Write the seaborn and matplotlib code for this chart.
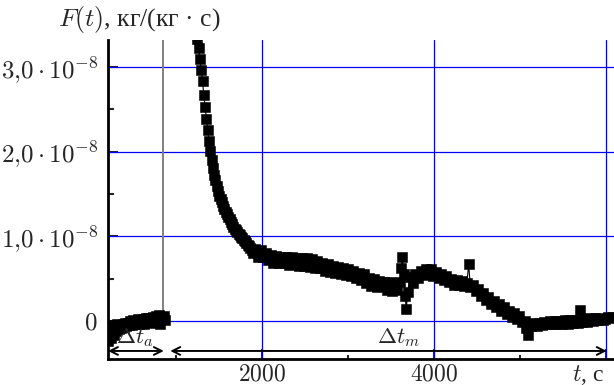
import matplotlib
matplotlib.use("Agg")
import matplotlib.pyplot as plt
import seaborn as sns
import numpy as np
from matplotlib.ticker import FixedLocator

# ---- data (F in units of 1e-8 kg/(kg*s)) ----
t_a = [210, 225, 240, 255, 270, 285, 300, 315, 330, 345, 360, 375, 390, 405, 420,
       435, 450, 465, 480, 495, 510, 525, 540, 555, 570, 585, 600, 615, 630, 645,
       660, 675, 690, 705, 720, 735, 750, 765, 780, 795, 810, 825, 840, 855, 870]
F_a = [-0.24, -0.05, -0.20, -0.10, -0.17, -0.06, -0.12, -0.04, -0.10, -0.05,
       -0.08, -0.03, -0.07, -0.02, -0.06, -0.02, -0.05, 0.00, -0.05, 0.01,
       -0.04, 0.00, -0.03, 0.02, -0.04, 0.01, -0.02, 0.02, -0.03, 0.03,
       -0.01, 0.03, -0.02, 0.04, 0.00, 0.05, -0.01, 0.06, 0.00, 0.07,
       -0.04, 0.05, 0.02, 0.06, 0.01]

t_m = [1230, 1245, 1260, 1275, 1290, 1305, 1320, 1335, 1350, 1365,
       1380, 1395, 1410, 1425, 1440, 1455, 1470, 1485, 1500, 1515,
       1530, 1545, 1560, 1575, 1590, 1605, 1620, 1635, 1650, 1665,
       1680, 1695, 1710, 1725, 1740, 1755, 1770, 1785, 1800, 1815,
       1830, 1845, 1860, 1875, 1890,
       1920, 1950, 1980, 2010, 2040, 2070, 2100, 2130, 2160, 2190,
       2220, 2250, 2280, 2310, 2340, 2370, 2400, 2430, 2460, 2490,
       2520, 2550, 2580, 2610, 2640, 2670, 2700, 2730, 2760, 2790,
       2820, 2850, 2880, 2910, 2940, 2970, 3000, 3030, 3060, 3090,
       3120, 3150, 3180, 3210, 3240, 3270, 3300, 3330, 3360, 3390,
       3420, 3450, 3480, 3510, 3540, 3570, 3600, 3615, 3630, 3645,
       3660, 3675, 3690, 3720, 3750, 3780, 3810, 3840, 3870, 3900,
       3930, 3960, 3990, 4020, 4050, 4080, 4110, 4140, 4170, 4200,
       4230, 4260, 4290, 4320, 4350, 4380, 4400, 4420, 4450, 4480,
       4510, 4540, 4570, 4600, 4630, 4660, 4690, 4720, 4750, 4780,
       4810, 4840, 4870, 4900, 4930, 4960, 4990, 5020, 5050, 5070,
       5085, 5100, 5130, 5160, 5190, 5220, 5250, 5280, 5310, 5340,
       5370, 5400, 5430, 5460, 5490, 5520, 5550, 5580, 5610, 5640,
       5670, 5700, 5720, 5750, 5780, 5810, 5840, 5870, 5900, 5930,
       5960, 5990, 6020, 6050, 6080]
F_m = [3.45, 3.33, 3.22, 3.10, 2.97, 2.83, 2.67, 2.53, 2.39, 2.26,
       2.13, 2.01, 1.90, 1.81, 1.73, 1.66, 1.59, 1.53, 1.48, 1.44,
       1.40, 1.36, 1.32, 1.29, 1.26, 1.23, 1.20, 1.17, 1.14, 1.11,
       1.09, 1.07, 1.05, 1.03, 1.01, 0.99, 0.98, 0.96, 0.94, 0.92,
       0.90, 0.88, 0.86, 0.84, 0.80,
       0.85, 0.76, 0.84, 0.76, 0.80, 0.72, 0.78, 0.69, 0.77, 0.68,
       0.75, 0.69, 0.76, 0.66, 0.75, 0.68, 0.74, 0.65, 0.74, 0.65,
       0.74, 0.64, 0.73, 0.63, 0.71, 0.62, 0.68, 0.59, 0.67, 0.58,
       0.65, 0.57, 0.64, 0.55, 0.63, 0.54, 0.61, 0.53, 0.59, 0.51,
       0.57, 0.49, 0.55, 0.45, 0.51, 0.41, 0.50, 0.40, 0.47, 0.41,
       0.46, 0.37, 0.46, 0.35, 0.42, 0.37, 0.46, 0.62, 0.76, 0.55,
       0.30, 0.14, 0.34, 0.52, 0.45, 0.55, 0.51, 0.59, 0.55, 0.61,
       0.54, 0.61, 0.53, 0.58, 0.51, 0.55, 0.49, 0.53, 0.46, 0.50,
       0.43, 0.49, 0.42, 0.47, 0.41, 0.45, 0.67, 0.40, 0.43, 0.35,
       0.38, 0.29, 0.33, 0.25, 0.28, 0.20, 0.24, 0.16, 0.20, 0.12,
       0.16, 0.08, 0.12, 0.05, 0.09, 0.02, 0.06, -0.01, 0.00, -0.08,
       -0.17, -0.04, -0.06, -0.02, -0.06, -0.02, -0.05, -0.01, -0.04, 0.00,
       -0.04, 0.00, -0.03, 0.00, -0.03, 0.01, -0.03, 0.01, -0.02, 0.01,
       -0.02, 0.13, -0.01, 0.02, -0.01, 0.03, 0.00, 0.03, 0.01, 0.04,
       0.01, 0.02, 0.05, 0.03, 0.05]
assert len(t_a) == len(F_a) and len(t_m) == len(F_m)

x_major = [2000, 4000, 6000]
x_labels = [r"$2000$", r"$4000$", ""]
x_minor = [1000, 3000, 5000]
y_major = [0, 1, 2, 3]
y_labels = [r"$0$", r"$1{,}0\cdot10^{-8}$", r"$2{,}0\cdot10^{-8}$", r"$3{,}0\cdot10^{-8}$"]
y_minor = [0.5, 1.5, 2.5]
t_boundary = 840
SCALE = 1e-8
FS = 18
FSX = 17

sns.set_style("white")
plt.rcParams["font.family"] = ["Liberation Serif", "DejaVu Serif"]
plt.rcParams["mathtext.fontset"] = "cm"

fig = plt.figure(figsize=(6.14, 3.85), dpi=100)
ax = fig.add_axes([108/614, 26/385, 506/614, 319/385])

ax.set_xlim(206, 6090)
ax.set_ylim(-0.449 * SCALE, 3.319 * SCALE)

# grid
for xv in x_major:
    ax.axvline(xv, color="#0000ff", lw=0.9, zorder=1)
for yv in y_major:
    ax.axhline(yv * SCALE, color="#0000ff", lw=0.9, zorder=1)
ax.vlines(t_boundary, 0, 3.319 * SCALE, color="#808080", lw=1.4, zorder=1)

kw = dict(color="black", marker="s", markersize=6.6, markeredgewidth=0.4,
          markeredgecolor="black", linewidth=0.8, estimator=None, sort=False,
          zorder=3, ax=ax)
sns.lineplot(x=t_a, y=np.array(F_a) * SCALE, **kw)
sns.lineplot(x=t_m, y=np.array(F_m) * SCALE, **kw)

# axes styling
for s in ["top", "right"]:
    ax.spines[s].set_visible(False)
for s in ["left", "bottom"]:
    ax.spines[s].set_linewidth(2.0)
    ax.spines[s].set_color("black")
    ax.spines[s].set_zorder(6)

ax.set_xticks(x_major)
ax.set_xticklabels(x_labels)
ax.xaxis.set_minor_locator(FixedLocator(x_minor))
ax.set_yticks([v * SCALE for v in y_major])
ax.set_yticklabels(y_labels)
ax.yaxis.set_minor_locator(FixedLocator([v * SCALE for v in y_minor]))
ax.tick_params(which="major", direction="in", length=7, width=1.5,
               bottom=True, left=True)
ax.tick_params(axis="x", which="major", pad=4.0, labelsize=FSX)
ax.tick_params(axis="y", which="major", pad=7.2, labelsize=FS)
ax.tick_params(which="minor", direction="in", length=4, width=1.5, bottom=True, left=True)
ax.tick_params(axis="x", which="minor", length=3)
ax.set_xlabel("")
ax.set_ylabel("")

# arrows & labels
ya = -0.354 * SCALE
ax.annotate("", xy=(855, ya), xytext=(206, ya),
            arrowprops=dict(arrowstyle="<->", lw=1.4, color="black",
                            shrinkA=0, shrinkB=0, mutation_scale=14), zorder=4)
ax.annotate("", xy=(6005, ya), xytext=(930, ya),
            arrowprops=dict(arrowstyle="<->", lw=1.4, color="black",
                            shrinkA=0, shrinkB=0, mutation_scale=14), zorder=4)
ax.text(512, -0.26 * SCALE, r"$\Delta t_a$", ha="center", va="baseline", fontsize=16.5, zorder=5)
ax.text(3581, -0.26 * SCALE, r"$\Delta t_m$", ha="center", va="baseline", fontsize=16.5, zorder=5)

ax.annotate(r"$t$, с", xy=(5605, 0), xycoords=("data", "axes fraction"),
            xytext=(0, -15.5), textcoords="offset points", ha="left", va="baseline",
            fontsize=FSX)
fig.text(58/614, 1 - 26/385, r"$F(t)$, кг/(кг · с)", ha="left", va="baseline", fontsize=18.5)

fig.savefig("out.png", dpi=100)
